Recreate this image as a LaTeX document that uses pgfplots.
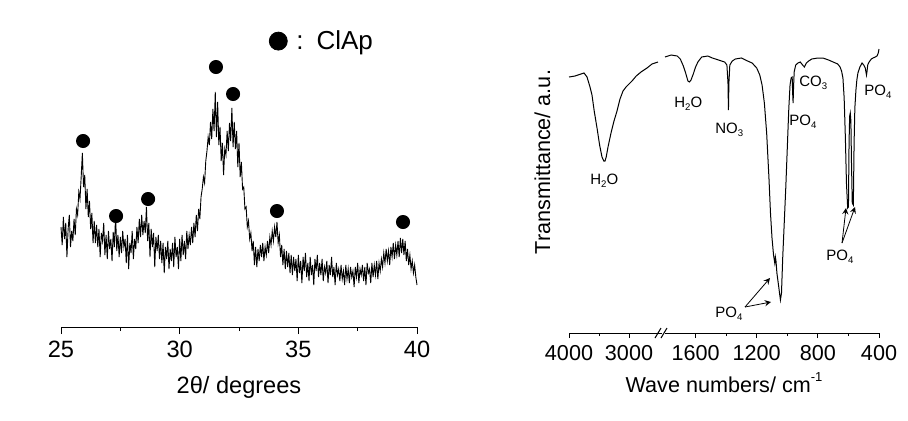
\documentclass[border=0pt]{standalone}
\usepackage{fontspec}
\setmainfont{Liberation Sans}
\usepackage{pgfplots}
\pgfplotsset{compat=1.18}
\newcommand{\sub}[1]{\raisebox{-0.5ex}{\fontsize{4.8}{5}\selectfont #1}}
\newcommand{\ann}{\fontsize{7.5}{9}\selectfont}
\pgfplotsset{
  base/.style={
    scale only axis, axis x line*=bottom, axis y line=none,
    axis line style={line width=0.5pt, black},
    tick align=outside, clip=false,
    /pgf/number format/assume math mode=true,
    /pgf/number format/1000 sep={},
    xtick style={line width=0.5pt, black},
  }
}
\begin{document}
\begin{tikzpicture}
\path[use as bounding box] (0,0) rectangle (454pt,210pt);
% ---------------- XRD ----------------
\begin{axis}[base,
  at={(30.5pt,46.5pt)}, anchor=south west,
  width=178pt, height=150pt,
  xmin=25, xmax=40, ymin=0, ymax=300,
  xtick={25,30,35,40}, minor xtick={27.5,32.5,37.5},
  major tick length=3.5pt, minor tick length=2pt,
  tick label style={font=\fontsize{11.8}{13}\selectfont},
  xlabel={2θ/ degrees},
  xlabel style={font=\fontsize{11.8}{13}\selectfont, at={(axis description cs:0.5,0)}, anchor=base, yshift=-33pt},
  legend style={draw=none, fill=none, at={(0.584,0.953)}, anchor=west, inner sep=0pt,
    font=\fontsize{13}{15}\selectfont},
  legend image code/.code={\draw[#1] plot coordinates {(4.5pt,0pt)};},
]
\addplot[black, line width=0.45pt, forget plot] coordinates {
(25.00,100)(25.05,82)(25.10,110)(25.15,88)(25.20,104)(25.25,70)(25.30,98)(25.35,112)(25.40,80)(25.45,96)
(25.50,86)(25.55,108)(25.60,92)(25.65,118)(25.70,112)(25.75,135)(25.80,128)(25.85,150)(25.90,174)(25.95,140)
(26.00,152)(26.05,118)(26.10,138)(26.15,110)(26.20,126)(26.25,98)(26.30,114)(26.35,84)(26.40,106)(26.45,84)
(26.50,102)(26.55,80)(26.60,98)(26.65,70)(26.70,94)(26.75,86)(26.80,104)(26.85,72)(26.90,92)(26.95,68)
(27.00,96)(27.05,78)(27.10,88)(27.15,66)(27.20,95)(27.25,80)(27.30,112)(27.35,76)(27.40,92)(27.45,70)
(27.50,90)(27.55,74)(27.60,96)(27.65,80)(27.70,88)(27.75,64)(27.80,92)(27.85,58)(27.90,84)(27.95,74)
(28.00,96)(28.05,68)(28.10,88)(28.15,78)(28.20,100)(28.25,84)(28.30,108)(28.35,90)(28.40,112)(28.45,92)
(28.50,106)(28.55,94)(28.60,120)(28.65,86)(28.70,104)(28.75,70)(28.80,98)(28.85,80)(28.90,94)(28.95,60)
(29.00,90)(29.05,76)(29.10,92)(29.15,68)(29.20,86)(29.25,64)(29.30,84)(29.35,54)(29.40,80)(29.45,68)
(29.50,86)(29.55,58)(29.60,78)(29.65,66)(29.70,84)(29.75,60)(29.80,90)(29.85,70)(29.90,80)(29.95,58)
(30.00,88)(30.05,66)(30.10,92)(30.15,72)(30.20,86)(30.25,68)(30.30,96)(30.35,78)(30.40,92)(30.45,82)
(30.50,100)(30.55,84)(30.60,104)(30.65,90)(30.70,112)(30.75,96)(30.80,118)(30.85,108)(30.90,130)(30.95,138)
(31.00,150)(31.05,144)(31.10,166)(31.15,176)(31.20,190)(31.25,182)(31.30,205)(31.35,188)(31.40,218)(31.45,196)
(31.50,235)(31.55,190)(31.60,225)(31.65,182)(31.70,200)(31.75,166)(31.80,184)(31.85,152)(31.90,178)(31.95,172)
(32.00,196)(32.05,176)(32.10,204)(32.15,186)(32.20,219)(32.25,180)(32.30,205)(32.35,178)(32.40,196)(32.45,160)
(32.50,184)(32.55,150)(32.60,165)(32.65,138)(32.70,140)(32.75,118)(32.80,120)(32.85,100)(32.90,106)(32.95,88)
(33.00,94)(33.05,76)(33.10,86)(33.15,62)(33.20,80)(33.25,60)(33.30,78)(33.35,66)(33.40,82)(33.45,70)
(33.50,84)(33.55,66)(33.60,80)(33.65,72)(33.70,86)(33.75,74)(33.80,90)(33.85,82)(33.90,96)(33.95,86)
(34.00,100)(34.05,90)(34.10,105)(34.15,84)(34.20,92)(34.25,70)(34.30,82)(34.35,62)(34.40,78)(34.45,58)
(34.50,76)(34.55,60)(34.60,74)(34.65,54)(34.70,72)(34.75,52)(34.80,70)(34.85,56)(34.90,68)(34.95,46)
(35.00,72)(35.05,54)(35.10,66)(35.15,44)(35.20,70)(35.25,56)(35.30,74)(35.35,50)(35.40,64)(35.45,46)
(35.50,70)(35.55,52)(35.60,62)(35.65,42)(35.70,68)(35.75,56)(35.80,72)(35.85,50)(35.90,64)(35.95,52)
(36.00,68)(36.05,46)(36.10,60)(36.15,54)(36.20,66)(36.25,44)(36.30,62)(36.35,52)(36.40,70)(36.45,50)
(36.50,60)(36.55,42)(36.60,64)(36.65,52)(36.70,58)(36.75,46)(36.80,62)(36.85,48)(36.90,56)(36.95,42)
(37.00,62)(37.05,48)(37.10,58)(37.15,44)(37.20,60)(37.25,50)(37.30,56)(37.35,40)(37.40,60)(37.45,50)
(37.50,64)(37.55,44)(37.60,58)(37.65,52)(37.70,62)(37.75,46)(37.80,60)(37.85,42)(37.90,64)(37.95,54)
(38.00,58)(38.05,44)(38.10,64)(38.15,50)(38.20,62)(38.25,52)(38.30,66)(38.35,48)(38.40,64)(38.45,56)
(38.50,68)(38.55,60)(38.60,74)(38.65,64)(38.70,78)(38.75,66)(38.80,76)(38.85,62)(38.90,80)(38.95,70)
(39.00,84)(39.05,68)(39.10,82)(39.15,72)(39.20,86)(39.25,70)(39.30,89)(39.35,74)(39.40,88)(39.45,72)
(39.50,86)(39.55,66)(39.60,78)(39.65,62)(39.70,72)(39.75,58)(39.80,66)(39.85,54)(39.90,62)(39.95,50)
(40.00,42)
};
\addplot[only marks, mark=*, mark size=3.3pt, black, forget plot] coordinates {
(25.93,186)(27.32,111)(28.67,128)(31.53,260)(32.25,233)(34.10,116)(39.41,105)
};
\addlegendimage{only marks, mark=*, mark size=4.5pt, black}
\addlegendentry{\hspace{2.5pt}:\hspace{6.5pt}ClAp}
\end{axis}
% ---------------- FTIR left segment ----------------
\begin{axis}[base,
  at={(284.5pt,43.5pt)}, anchor=south west,
  width=46.5pt, height=150pt,
  x dir=reverse, xmin=2450, xmax=4000, ymin=0, ymax=300,
  xtick={3000,4000}, minor xtick={3500},
  major tick length=2.5pt, minor tick length=1.5pt,
  tick label style={font=\fontsize{10.8}{12}\selectfont},
]
\addplot[black, line width=0.5pt] coordinates {
(4000,256)(3900,257)(3800,259)(3750,260)(3700,256)(3680,252)(3650,246)(3617,238)
(3580,222)(3533,205)(3490,188)(3450,176)(3420,172)(3400,172)(3380,176)(3350,186)
(3300,200)(3250,212)(3200,222)(3150,234)(3100,242)(3050,246)(3000,249)(2950,252)
(2880,257)(2800,261)(2700,265)(2617,269)(2517,271)
};
\end{axis}
% ---------------- FTIR right segment ----------------
\begin{axis}[base,
  at={(332.5pt,43.5pt)}, anchor=south west,
  width=107pt, height=150pt,
  x dir=reverse, xmin=400, xmax=1800, ymin=0, ymax=300,
  xtick={400,800,1200,1600}, minor xtick={600,1000,1400},
  major tick length=2.5pt, minor tick length=1.5pt,
  tick label style={font=\fontsize{10.8}{12}\selectfont},
]
\addplot[black, line width=0.5pt] coordinates {
(1800,276)(1760,278)(1720,277)(1700,274)(1680,267)(1665,260)(1650,252)(1640,251)
(1630,253)(1615,259)(1600,266)(1585,271)(1560,276)(1520,277)(1490,275)(1450,273)
(1410,271)(1395,268)(1388,250)(1385,223)(1382,250)(1376,268)(1360,272)(1340,274)
(1300,275)(1260,272)(1230,270)(1200,265)(1180,258)(1165,248)(1150,230)(1135,200)
(1120,155)(1110,120)(1100,95)(1090,78)(1082,70)(1078,76)(1074,72)(1068,60)
(1055,45)(1045,33)(1038,40)(1030,75)(1020,110)(1010,145)(1000,185)(990,225)
(982,248)(975,255)(968,256)(965,240)(962,230)(959,246)(955,261)(945,268)
(930,270)(915,271)(900,268)(888,266)(875,270)(860,272)(840,274)(800,275)
(767,275)(730,273)(700,271)(670,269)(655,266)(645,262)(636,255)(628,235)
(620,195)(613,150)(605,125)(600,126)(596,190)(592,217)(588,220)(584,212)
(580,170)(575,130)(568,128)(563,190)(558,225)(551,243)(545,253)(538,260)
(525,266)(511,270)(500,268)(490,265)(482,258)(478,262)(474,268)(465,271)
(450,274)(439,275)(425,276)(413,277)(405,280)(400,284)
};
\end{axis}
% break marks
\draw[line width=0.5pt] (327.5pt,41pt) -- (330.5pt,46pt);
\draw[line width=0.5pt] (330.5pt,41pt) -- (333.5pt,46pt);
% axis labels of FTIR
\node[font=\fontsize{10.8}{12}\selectfont, anchor=base] at (362pt,14pt) {Wave numbers/ cm\raisebox{0.9ex}{\fontsize{6.5}{7}\selectfont -1}};
\node[font=\fontsize{10.8}{12}\selectfont, rotate=90, anchor=base] at (275pt,129pt) {Transmittance/ a.u.};
% band annotations
\node[font=\ann, anchor=base west, inner sep=0pt] at (295pt,118pt) {H\sub{2}O};
\node[font=\ann, anchor=base west, inner sep=0pt] at (337pt,156.5pt) {H\sub{2}O};
\node[font=\ann, anchor=base west, inner sep=0pt] at (357.5pt,143.5pt) {NO\sub{3}};
\node[font=\ann, anchor=base west, inner sep=0pt] at (394.5pt,147.5pt) {PO\sub{4}};
\node[font=\ann, anchor=base west, inner sep=0pt] at (399.5pt,167pt) {CO\sub{3}};
\node[font=\ann, anchor=base west, inner sep=0pt] at (432pt,162.5pt) {PO\sub{4}};
\node[font=\ann, anchor=base west, inner sep=0pt] at (357.5pt,51.5pt) {PO\sub{4}};
\node[font=\ann, anchor=base west, inner sep=0pt] at (413pt,80pt) {PO\sub{4}};
% arrows
\draw[-stealth, line width=0.4pt] (372.5pt,56.5pt) -- (385pt,71pt);
\draw[-stealth, line width=0.4pt] (372.5pt,56.5pt) -- (385.5pt,59pt);
\draw[-stealth, line width=0.4pt] (421pt,88.5pt) -- (423pt,106pt);
\draw[-stealth, line width=0.4pt] (421pt,88.5pt) -- (427.5pt,106.5pt);
\end{tikzpicture}
\end{document}
